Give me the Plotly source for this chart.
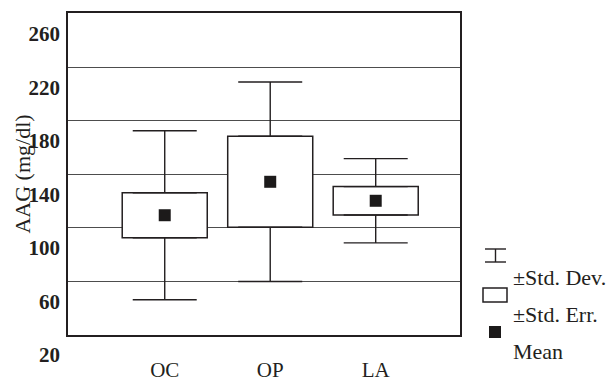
import plotly.graph_objects as go

# ---- data ----
categories = ["OC", "OP", "LA"]
means = [124.5, 149.5, 135.3]
std_err = [16.8, 34.0, 10.6]
std_dev = [63.2, 74.6, 31.5]
y_tick_labels = [20, 60, 100, 140, 180, 220, 260]
grid_values = [75.2, 115.2, 155.2, 195.2, 235.2]
legend_labels = ["\u00b1Std. Dev.", "\u00b1Std. Err.", "Mean"]

# ---- layout geometry ----
W, H = 615, 385
ML, MR, MT, MB = 68, 155, 13, 15
PX_PER_UNIT = 1.3375
Y_TOP = 275.7
Y_FRAME_BOTTOM = 34.95
Y_LABEL_BOTTOM = 8.78
plot_h = H - MT - MB
frame_bottom_px = MT + (Y_TOP - Y_FRAME_BOTTOM) * PX_PER_UNIT
dom_low = (H - MB - frame_bottom_px) / plot_h

FONT = "Liberation Serif, Times New Roman, serif"
INK = "#231f20"

def px(x):
    return (x - ML) / (W - ML - MR)

def py(y):
    return (H - MB - y) / plot_h

fig = go.Figure()

# whiskers (from box edge to mean +/- SD)
wx, wy, wplus, wminus = [], [], [], []
for c, m, se, sd in zip(categories, means, std_err, std_dev):
    wx += [c, c]
    wy += [m + se, m - se]
    wplus += [sd - se, 0]
    wminus += [0, sd - se]
fig.add_trace(go.Scatter(
    x=wx, y=wy, mode="markers",
    marker=dict(size=1, color="rgba(0,0,0,0)"),
    error_y=dict(type="data", symmetric=False, array=wplus, arrayminus=wminus,
                 color=INK, thickness=1.4, width=32),
    hoverinfo="skip", showlegend=False))

# boxes (mean +/- SE)
fig.add_trace(go.Bar(
    x=categories,
    y=[2 * s for s in std_err],
    base=[m - s for m, s in zip(means, std_err)],
    width=0.806,
    marker=dict(color="white", line=dict(color=INK, width=1.5)),
    hoverinfo="skip", showlegend=False))

# means
fig.add_trace(go.Scatter(
    x=categories, y=means, mode="markers",
    marker=dict(symbol="square", size=12, color="#1c1a1a", line=dict(width=0)),
    hoverinfo="skip", showlegend=False))

# carrier trace for the label axis
fig.add_trace(go.Scatter(
    x=[categories[0]], y=[y_tick_labels[0]], yaxis="y2", mode="markers",
    marker=dict(size=1, color="rgba(0,0,0,0)"), hoverinfo="skip", showlegend=False))

# legend (drawn manually)
shapes = []
ix0, ix1 = px(485), px(506)
shapes.append(dict(type="line", xref="paper", yref="paper", x0=ix0, x1=ix1, y0=py(249), y1=py(249),
                   line=dict(color=INK, width=1.4)))
shapes.append(dict(type="line", xref="paper", yref="paper", x0=ix0, x1=ix1, y0=py(262), y1=py(262),
                   line=dict(color=INK, width=1.4)))
shapes.append(dict(type="line", xref="paper", yref="paper", x0=px(495.5), x1=px(495.5), y0=py(249), y1=py(262),
                   line=dict(color=INK, width=1.4)))
shapes.append(dict(type="rect", xref="paper", yref="paper", x0=px(483), x1=px(507), y0=py(302), y1=py(288),
                   fillcolor="white", line=dict(color=INK, width=1.5)))
shapes.append(dict(type="rect", xref="paper", yref="paper", x0=px(489), x1=px(501), y0=py(338), y1=py(326),
                   fillcolor="#1c1a1a", line=dict(width=0)))

annotations = []
for label, ypix in zip(legend_labels, [277, 314, 351]):
    annotations.append(dict(text=label, xref="paper", yref="paper", x=px(511), y=py(ypix),
                            xanchor="left", yanchor="middle", showarrow=False,
                            font=dict(family=FONT, size=22, color=INK)))

fig.update_layout(
    width=W, height=H,
    margin=dict(l=ML, r=MR, t=MT, b=MB, autoexpand=False),
    paper_bgcolor="white", plot_bgcolor="rgba(0,0,0,0)",
    font=dict(family=FONT, color=INK),
    showlegend=False,
    shapes=shapes,
    annotations=annotations,
    xaxis=dict(
        range=[-0.917, 2.799], domain=[0, 1], anchor="y", automargin=False,
        showline=True, mirror=True, linecolor=INK, linewidth=1.5,
        showgrid=False, zeroline=False, ticks="", ticklabelstandoff=15,
        tickfont=dict(family=FONT, size=21, color=INK),
        categoryorder="array", categoryarray=categories,
    ),
    yaxis=dict(
        range=[Y_FRAME_BOTTOM, Y_TOP], domain=[dom_low, 1], anchor="x", automargin=False,
        showline=True, mirror=True, linecolor=INK, linewidth=1.5,
        tickmode="array", tickvals=grid_values, showticklabels=False, ticks="",
        showgrid=True, gridcolor="#4d4d4d", gridwidth=1.2, zeroline=False,
        title=dict(text="AAG (mg/dl)", standoff=30,
                   font=dict(family=FONT, size=22, color=INK)),
    ),
    yaxis2=dict(
        range=[Y_LABEL_BOTTOM, Y_TOP], domain=[0, 1], anchor="free", position=0, automargin=False,
        showline=False, showgrid=False, zeroline=False, ticks="",
        tickmode="array", tickvals=y_tick_labels, ticklabelstandoff=8,
        tickfont=dict(family=FONT, size=21, color=INK, weight="bold"),
    ),
)

fig.write_html("out.html", config={"displayModeBar": False},
               post_script="document.body.style.margin='0';")
